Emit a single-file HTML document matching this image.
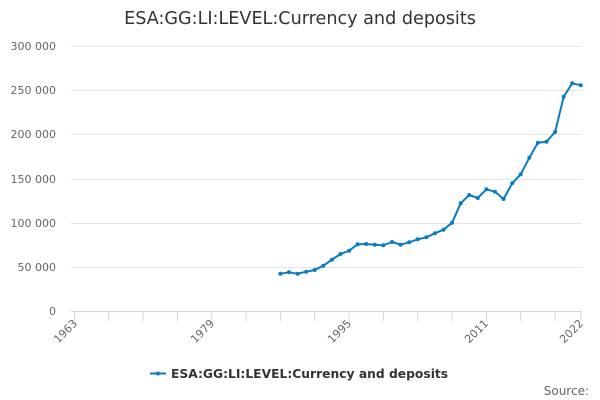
<!DOCTYPE html>
<html><head><meta charset="utf-8"><style>
body{margin:0;background:#fff;}
svg{display:block;font-family:"DejaVu Sans","Liberation Sans",sans-serif;}
</style></head><body>
<svg width="600" height="400" viewBox="0 0 600 400">
<text x="300" y="24" text-anchor="middle" font-size="17.6" fill="#333">ESA:GG:LI:LEVEL:Currency and deposits</text>
<g stroke="#e6e6e6" stroke-width="1">
<line x1="71" x2="582" y1="46.5" y2="46.5"/>
<line x1="71" x2="582" y1="90.5" y2="90.5"/>
<line x1="71" x2="582" y1="134.5" y2="134.5"/>
<line x1="71" x2="582" y1="179.5" y2="179.5"/>
<line x1="71" x2="582" y1="223.5" y2="223.5"/>
<line x1="71" x2="582" y1="267.5" y2="267.5"/>
</g>
<g font-size="11" fill="#666" text-anchor="end">
<text x="56" y="50">300 000</text>
<text x="56" y="94">250 000</text>
<text x="56" y="138">200 000</text>
<text x="56" y="183">150 000</text>
<text x="56" y="227">100 000</text>
<text x="56" y="271">50 000</text>
<text x="56" y="315">0</text>
</g>
<line x1="71" x2="582" y1="311.5" y2="311.5" stroke="#ccd6eb"/>
<g stroke="#ccd6eb">
<line x1="74.5" x2="74.5" y1="311" y2="321"/><line x1="108.8" x2="108.8" y1="311" y2="321"/><line x1="143.1" x2="143.1" y1="311" y2="321"/><line x1="177.5" x2="177.5" y1="311" y2="321"/><line x1="211.8" x2="211.8" y1="311" y2="321"/><line x1="246.1" x2="246.1" y1="311" y2="321"/><line x1="280.4" x2="280.4" y1="311" y2="321"/><line x1="314.7" x2="314.7" y1="311" y2="321"/><line x1="349.1" x2="349.1" y1="311" y2="321"/><line x1="383.4" x2="383.4" y1="311" y2="321"/><line x1="417.7" x2="417.7" y1="311" y2="321"/><line x1="452.1" x2="452.1" y1="311" y2="321"/><line x1="486.4" x2="486.4" y1="311" y2="321"/><line x1="520.7" x2="520.7" y1="311" y2="321"/><line x1="555.1" x2="555.1" y1="311" y2="321"/><line x1="580.8" x2="580.8" y1="311" y2="321"/>
</g>
<g font-size="11" fill="#666" text-anchor="end">
<text transform="translate(78,324) rotate(-45)">1963</text>
<text transform="translate(215,324) rotate(-45)">1979</text>
<text transform="translate(352,324) rotate(-45)">1995</text>
<text transform="translate(489,324) rotate(-45)">2011</text>
<text transform="translate(584,324) rotate(-45)">2022</text>
</g>
<polyline fill="none" stroke="#0b7bc1" stroke-width="2" stroke-linejoin="round" points="280.4,273.7 289.0,272.3 297.6,273.7 306.2,271.7 314.7,270 323.3,265.7 331.9,259.7 340.5,254 349.1,250.7 357.6,244.3 366.2,244 374.8,244.7 383.4,245.3 392.0,242 400.6,244.7 409.1,242.3 417.7,239.3 426.3,237.3 434.9,233.3 443.5,229.7 452.1,222.7 460.7,203.3 469.2,195 477.8,198 486.4,189.3 495.0,191.7 503.6,199 512.2,183.3 520.7,174.3 529.3,157.7 537.9,142.7 546.5,141.7 555.1,132 563.7,96.7 572.2,83.3 580.8,85.3"/>
<g fill="#0b7bc1">
<circle cx="280.4" cy="273.7" r="2"/><circle cx="289.0" cy="272.3" r="2"/><circle cx="297.6" cy="273.7" r="2"/><circle cx="306.2" cy="271.7" r="2"/><circle cx="314.7" cy="270" r="2"/><circle cx="323.3" cy="265.7" r="2"/><circle cx="331.9" cy="259.7" r="2"/><circle cx="340.5" cy="254" r="2"/><circle cx="349.1" cy="250.7" r="2"/><circle cx="357.6" cy="244.3" r="2"/><circle cx="366.2" cy="244" r="2"/><circle cx="374.8" cy="244.7" r="2"/><circle cx="383.4" cy="245.3" r="2"/><circle cx="392.0" cy="242" r="2"/><circle cx="400.6" cy="244.7" r="2"/><circle cx="409.1" cy="242.3" r="2"/><circle cx="417.7" cy="239.3" r="2"/><circle cx="426.3" cy="237.3" r="2"/><circle cx="434.9" cy="233.3" r="2"/><circle cx="443.5" cy="229.7" r="2"/><circle cx="452.1" cy="222.7" r="2"/><circle cx="460.7" cy="203.3" r="2"/><circle cx="469.2" cy="195" r="2"/><circle cx="477.8" cy="198" r="2"/><circle cx="486.4" cy="189.3" r="2"/><circle cx="495.0" cy="191.7" r="2"/><circle cx="503.6" cy="199" r="2"/><circle cx="512.2" cy="183.3" r="2"/><circle cx="520.7" cy="174.3" r="2"/><circle cx="529.3" cy="157.7" r="2"/><circle cx="537.9" cy="142.7" r="2"/><circle cx="546.5" cy="141.7" r="2"/><circle cx="555.1" cy="132" r="2"/><circle cx="563.7" cy="96.7" r="2"/><circle cx="572.2" cy="83.3" r="2"/><circle cx="580.8" cy="85.3" r="2"/>
</g>
<line x1="150" x2="166" y1="373.5" y2="373.5" stroke="#0b7bc1" stroke-width="2"/>
<circle cx="158" cy="373.5" r="2" fill="#0b7bc1"/>
<text x="171" y="378" font-size="12.3" font-weight="bold" fill="#333">ESA:GG:LI:LEVEL:Currency and deposits</text>
<text x="589" y="395" font-size="12" fill="#666" text-anchor="end">Source:</text>
</svg>
</body></html>
